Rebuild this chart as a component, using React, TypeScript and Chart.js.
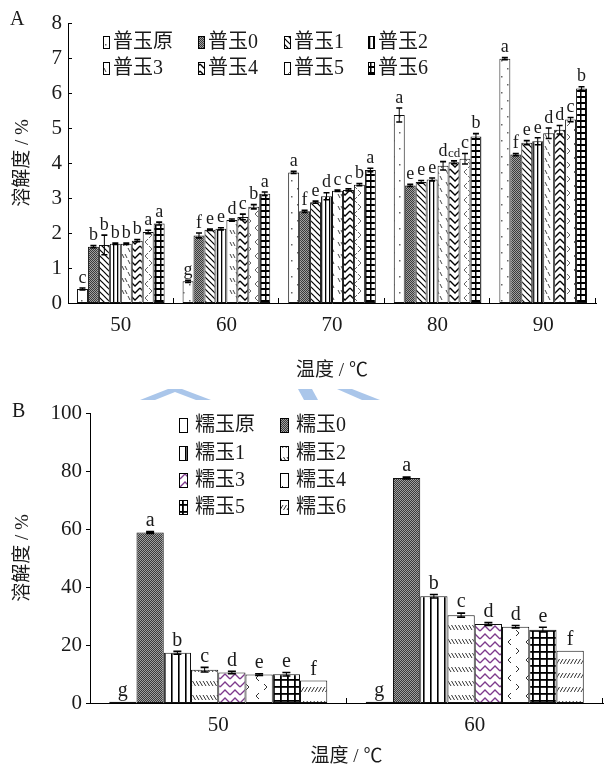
import React, { useEffect, useRef } from 'react';
import { Chart, registerables } from 'chart.js';
Chart.register(...registerables);

// ---------------- Panel A data ----------------
const temperaturesA = ['50', '60', '70', '80', '90'];
const namesA = ['普玉原', '普玉0', '普玉1', '普玉2', '普玉3', '普玉4', '普玉5', '普玉6'];
const puYuan = [0.40, 0.62, 3.73, 5.37, 6.98];
const pu0 = [1.61, 1.93, 2.62, 3.36, 4.24];
const pu1 = [1.66, 2.09, 2.88, 3.46, 4.58];
const pu2 = [1.69, 2.12, 3.05, 3.53, 4.62];
const pu3 = [1.69, 2.37, 3.21, 3.92, 4.85];
const pu4 = [1.78, 2.46, 3.23, 4.02, 4.95];
const pu5 = [2.03, 2.75, 3.38, 4.12, 5.24];
const pu6 = [2.27, 3.12, 3.80, 4.76, 6.13];
const errPuYuan = [0.03, 0.03, 0.03, 0.20, 0.03];
const errPu0 = [0.03, 0.07, 0.03, 0.03, 0.03];
const errPu1 = [0.28, 0.02, 0.03, 0.04, 0.06];
const errPu2 = [0.02, 0.03, 0.10, 0.04, 0.10];
const errPu3 = [0.02, 0.03, 0.02, 0.12, 0.15];
const errPu4 = [0.03, 0.08, 0.03, 0.04, 0.12];
const errPu5 = [0.05, 0.06, 0.03, 0.15, 0.06];
const errPu6 = [0.04, 0.05, 0.05, 0.08, 0.05];
const letPuYuan = ['c', 'g', 'a', 'a', 'a'];
const letPu0 = ['b', 'f', 'f', 'e', 'f'];
const letPu1 = ['b', 'e', 'e', 'e', 'e'];
const letPu2 = ['b', 'e', 'd', 'e', 'e'];
const letPu3 = ['b', 'd', 'c', 'd', 'd'];
const letPu4 = ['b', 'c', 'c', 'cd', 'd'];
const letPu5 = ['a', 'b', 'b', 'c', 'c'];
const letPu6 = ['a', 'a', 'a', 'b', 'b'];

// ---------------- Panel B data ----------------
const temperaturesB = ['50', '60'];
const namesB = ['糯玉原', '糯玉0', '糯玉1', '糯玉2', '糯玉3', '糯玉4', '糯玉5', '糯玉6'];
const nuoYuan = [0.4, 0.4];
const nuo0 = [58.8, 77.6];
const nuo1 = [17.3, 36.8];
const nuo2 = [11.5, 30.3];
const nuo3 = [10.5, 27.2];
const nuo4 = [9.8, 26.3];
const nuo5 = [9.9, 25.3];
const nuo6 = [7.8, 18.0];
const errNuoYuan = [0, 0];
const errNuo0 = [0.3, 0.3];
const errNuo1 = [0.5, 0.6];
const errNuo2 = [0.8, 0.7];
const errNuo3 = [0.4, 0.5];
const errNuo4 = [0.3, 0.4];
const errNuo5 = [0.6, 0.8];
const errNuo6 = [0, 0];
const letNuoYuan = ['g', 'g'];
const letNuo0 = ['a', 'a'];
const letNuo1 = ['b', 'b'];
const letNuo2 = ['c', 'c'];
const letNuo3 = ['d', 'd'];
const letNuo4 = ['e', 'd'];
const letNuo5 = ['e', 'e'];
const letNuo6 = ['f', 'f'];

const SERIF = "'Liberation Serif', 'Times New Roman', serif";
const MIXED = "'Liberation Serif', 'Noto Sans CJK SC', sans-serif";
const INK = '#1a1a1a';

type Pat = CanvasPattern | string;

function tile(target: CanvasRenderingContext2D, w: number, h: number, draw: (g: CanvasRenderingContext2D) => void): Pat {
  const c = document.createElement('canvas');
  c.width = w;
  c.height = h;
  const g = c.getContext('2d')!;
  g.fillStyle = '#fff';
  g.fillRect(0, 0, w, h);
  draw(g);
  return target.createPattern(c, 'repeat') || '#fff';
}

function poly(g: CanvasRenderingContext2D, pts: number[][], color = '#000', width = 1) {
  g.strokeStyle = color;
  g.lineWidth = width;
  g.beginPath();
  g.moveTo(pts[0][0], pts[0][1]);
  for (let i = 1; i < pts.length; i++) g.lineTo(pts[i][0], pts[i][1]);
  g.stroke();
}

function patternsA(ctx: CanvasRenderingContext2D): Pat[] {
  return [
    tile(ctx, 12, 16, g => { g.fillStyle = '#666'; g.fillRect(3, 4, 1.5, 1.5); g.fillRect(9, 12, 1.5, 1.5); }),
    tile(ctx, 2, 2, g => { g.fillStyle = '#a0a0a0'; g.fillRect(0, 0, 2, 2); g.fillStyle = '#3a3a3a'; g.fillRect(0, 0, 1, 1); g.fillRect(1, 1, 1, 1); }),
    tile(ctx, 6, 6, g => { poly(g, [[-1, -1], [7, 7]], '#000', 1.2); poly(g, [[-1, 5], [1, 7]], '#000', 1.2); poly(g, [[5, -1], [7, 1]], '#000', 1.2); }),
    tile(ctx, 4, 2, g => { g.fillStyle = '#000'; g.fillRect(1, 0, 1.3, 2); }),
    tile(ctx, 12, 12, g => { poly(g, [[2, 2], [4, 6]], '#444', 1); poly(g, [[5, 2], [7, 6]], '#444', 1); poly(g, [[8, 8], [10, 12]], '#444', 1); }),
    tile(ctx, 10, 7, g => { poly(g, [[0, 1], [5, 6], [10, 1]], '#000', 1.3); }),
    tile(ctx, 11, 14, g => { poly(g, [[5, 1], [2, 4], [5, 7]], '#666', 1); poly(g, [[6, 8], [9, 11], [6, 14]], '#666', 1); }),
    tile(ctx, 5, 6, g => { g.fillStyle = '#000'; g.fillRect(0, 0, 5, 2); g.fillRect(0, 0, 1.5, 6); }),
  ];
}

function patternsB(ctx: CanvasRenderingContext2D): Pat[] {
  return [
    '#ffffff',
    tile(ctx, 2, 2, g => { g.fillStyle = '#a0a0a0'; g.fillRect(0, 0, 2, 2); g.fillStyle = '#3a3a3a'; g.fillRect(0, 0, 1, 1); g.fillRect(1, 1, 1, 1); }),
    tile(ctx, 7, 2, g => { g.fillStyle = '#000'; g.fillRect(3, 0, 1.6, 2); }),
    tile(ctx, 14, 14, g => { for (const x of [0, 3.5, 7, 10.5]) poly(g, [[x, 2], [x + 3, 7]], '#333', 1); }),
    tile(ctx, 10, 8, g => { poly(g, [[0, 6], [5, 1], [10, 6]], '#7d3a8c', 1.4); }),
    tile(ctx, 18, 18, g => { poly(g, [[7, 2], [4, 5], [7, 8]], '#333', 1); poly(g, [[12, 11], [15, 14], [12, 17]], '#333', 1); }),
    tile(ctx, 7, 7, g => { g.fillStyle = '#000'; g.fillRect(0, 0, 7, 1.8); g.fillRect(0, 0, 1.8, 7); }),
    tile(ctx, 14, 14, g => { for (const x of [0, 3.5, 7, 10.5]) poly(g, [[x + 3, 8], [x, 13]], '#333', 1); }),
  ];
}

function annotatePlugin(errors: number[][], letters: string[][], cap: number, font: number) {
  return {
    id: 'annot',
    afterDatasetsDraw(chart: any) {
      const ctx = chart.ctx;
      const ys = chart.scales.y;
      ctx.save();
      chart.data.datasets.forEach((ds: any, di: number) => {
        const meta = chart.getDatasetMeta(di);
        meta.data.forEach((el: any, j: number) => {
          const v = ds.data[j];
          const e = errors[di][j];
          const x = el.x;
          const yT = ys.getPixelForValue(v + e);
          const yB = ys.getPixelForValue(v - e);
          ctx.strokeStyle = '#000';
          if (e > 0) {
            ctx.lineWidth = 1;
            ctx.beginPath();
            ctx.moveTo(x, yT); ctx.lineTo(x, yB);
            ctx.stroke();
            ctx.lineWidth = 1.6;
            ctx.beginPath();
            ctx.moveTo(x - cap, yT); ctx.lineTo(x + cap, yT);
            ctx.moveTo(x - cap, yB); ctx.lineTo(x + cap, yB);
            ctx.stroke();
          }
          const txt = letters[di][j];
          ctx.fillStyle = INK;
          ctx.font = `${txt.length > 1 ? font - 5 : font}px ${SERIF}`;
          ctx.textAlign = 'center';
          ctx.textBaseline = 'bottom';
          ctx.fillText(txt, x, yT - 1);
        });
      });
      ctx.restore();
    },
  };
}

function axisTicksPlugin(yDir: number) {
  return {
    id: 'axisTicks',
    afterDraw(chart: any) {
      const { ctx, chartArea } = chart;
      const xs = chart.scales.x;
      const ys = chart.scales.y;
      ctx.save();
      ctx.strokeStyle = '#000';
      ctx.lineWidth = 1;
      ctx.beginPath();
      const n = xs.getLabels().length;
      const half = (xs.getPixelForValue(1) - xs.getPixelForValue(0)) / 2;
      for (let i = 1; i <= n; i++) {
        const x = Math.round(xs.getPixelForValue(i - 1) + half) - 0.5;
        ctx.moveTo(x, chartArea.bottom);
        ctx.lineTo(x, chartArea.bottom - 5);
      }
      ys.ticks.forEach((t: any) => {
        const y = Math.round(ys.getPixelForValue(t.value)) + 0.5;
        ctx.moveTo(chartArea.left, y);
        ctx.lineTo(chartArea.left + yDir * 4, y);
      });
      ctx.stroke();
      ctx.restore();
    },
  };
}

function gridLegendPlugin(cols: number[], rows: number[], boxW: number, boxH: number, gap: number, font: number, ncols: number) {
  return {
    id: 'gridLegend',
    afterDraw(chart: any) {
      const ctx = chart.ctx;
      ctx.save();
      chart.data.datasets.forEach((ds: any, i: number) => {
        const cx = cols[i % ncols];
        const cy = rows[Math.floor(i / ncols)];
        ctx.fillStyle = ds.backgroundColor;
        ctx.fillRect(cx, cy - boxH / 2, boxW, boxH);
        ctx.strokeStyle = '#000';
        ctx.lineWidth = 1;
        ctx.strokeRect(cx + 0.5, cy - boxH / 2 + 0.5, boxW, boxH);
        ctx.fillStyle = INK;
        ctx.font = `${font}px ${MIXED}`;
        ctx.textAlign = 'left';
        ctx.textBaseline = 'middle';
        ctx.fillText(ds.label, cx + boxW + gap, cy + 1);
      });
      ctx.restore();
    },
  };
}

function panelLabelPlugin(text: string, x: number, y: number) {
  return {
    id: 'panelLabel',
    afterDraw(chart: any) {
      const ctx = chart.ctx;
      ctx.save();
      ctx.fillStyle = INK;
      ctx.font = `20px ${SERIF}`;
      ctx.textAlign = 'left';
      ctx.textBaseline = 'middle';
      ctx.fillText(text, x, y);
      ctx.restore();
    },
  };
}

const watermarkPlugin = {
  id: 'watermark',
  beforeDraw(chart: any) {
    const ctx = chart.ctx;
    ctx.save();
    ctx.fillStyle = '#aac6ea';
    const shapes = [
      [[140, 15], [168, 4], [182, 4], [211, 15], [196, 15], [175, 7], [155, 15]],
      [[298, 4], [312, 4], [318, 15], [304, 15]],
      [[337, 4], [352, 4], [380, 15], [362, 15]],
    ];
    shapes.forEach(s => {
      ctx.beginPath();
      ctx.moveTo(s[0][0], s[0][1]);
      s.slice(1).forEach(p => ctx.lineTo(p[0], p[1]));
      ctx.closePath();
      ctx.fill();
    });
    ctx.restore();
  },
};

function axisOptions(yMax: number, step: number, yWidth: number, xHeight: number, yTickPad: number, titlePadX: number, titlePadY: number) {
  return {
    x: {
      grid: { display: false, drawTicks: false },
      border: { display: true, color: '#000', width: 1 },
      ticks: { font: { family: SERIF, size: 21 }, color: INK, padding: 10 },
      title: { display: true, text: '温度 / ℃', font: { family: MIXED, size: 19 }, color: INK, padding: { top: 0, bottom: titlePadX } },
      afterFit: (s: any) => { s.height = xHeight; },
    },
    y: {
      min: 0,
      max: yMax,
      grid: { display: false, drawTicks: false },
      border: { display: true, color: '#000', width: 1 },
      ticks: { stepSize: step, font: { family: SERIF, size: 21 }, color: INK, padding: yTickPad },
      title: { display: true, text: '溶解度 / %', font: { family: MIXED, size: 19 }, color: INK, padding: { top: titlePadY, bottom: 0 } },
      afterFit: (s: any) => { s.width = yWidth; },
    },
  };
}

export default function App() {
  const refA = useRef<HTMLCanvasElement>(null);
  const refB = useRef<HTMLCanvasElement>(null);

  useEffect(() => {
    const ctxA = refA.current!.getContext('2d')!;
    const ctxB = refB.current!.getContext('2d')!;
    const patA = patternsA(ctxA);
    const patB = patternsB(ctxB);

    const valsA = [puYuan, pu0, pu1, pu2, pu3, pu4, pu5, pu6];
    const errsA = [errPuYuan, errPu0, errPu1, errPu2, errPu3, errPu4, errPu5, errPu6];
    const letsA = [letPuYuan, letPu0, letPu1, letPu2, letPu3, letPu4, letPu5, letPu6];
    const valsB = [nuoYuan, nuo0, nuo1, nuo2, nuo3, nuo4, nuo5, nuo6];
    const errsB = [errNuoYuan, errNuo0, errNuo1, errNuo2, errNuo3, errNuo4, errNuo5, errNuo6];
    const letsB = [letNuoYuan, letNuo0, letNuo1, letNuo2, letNuo3, letNuo4, letNuo5, letNuo6];

    const chartA = new Chart(ctxA, {
      type: 'bar',
      data: {
        labels: temperaturesA,
        datasets: namesA.map((name, i) => ({
          label: name,
          data: valsA[i],
          backgroundColor: patA[i] as any,
          borderColor: '#111',
          borderWidth: 1,
          borderSkipped: false,
          categoryPercentage: 0.83,
          barPercentage: 1.0,
        })),
      },
      options: {
        responsive: false,
        animation: false,
        layout: { padding: { left: 0, right: 8, top: 23, bottom: 0 } },
        plugins: { legend: { display: false }, tooltip: { enabled: false } },
        scales: axisOptions(8, 1, 68, 82, 6, 3, 12) as any,
      },
      plugins: [
        annotatePlugin(errsA, letsA, 3, 18),
        axisTicksPlugin(1),
        gridLegendPlugin([103, 198, 284, 368], [42, 68], 6, 12, 4, 20, 4),
        panelLabelPlugin('A', 10, 20),
      ],
    });

    const chartB = new Chart(ctxB, {
      type: 'bar',
      data: {
        labels: temperaturesB,
        datasets: namesB.map((name, i) => ({
          label: name,
          data: valsB[i],
          backgroundColor: patB[i] as any,
          borderColor: '#111',
          borderWidth: i === 0 ? 1.5 : 1,
          borderSkipped: false,
          categoryPercentage: 0.85,
          barPercentage: 1.0,
        })),
      },
      options: {
        responsive: false,
        animation: false,
        layout: { padding: { left: 0, right: 1, top: 28, bottom: 0 } },
        plugins: { legend: { display: false }, tooltip: { enabled: false } },
        scales: axisOptions(100, 20, 90, 66, 8, 1, 12) as any,
      },
      plugins: [
        watermarkPlugin,
        annotatePlugin(errsB, letsB, 4, 20),
        axisTicksPlugin(-1),
        gridLegendPlugin([179, 280], [40, 68, 95, 122], 8, 14, 8, 20, 2),
        panelLabelPlugin('B', 12, 27),
      ],
    });

    return () => {
      chartA.destroy();
      chartB.destroy();
    };
  }, []);

  return (
    <div style={{ position: 'absolute', left: 0, top: 0, width: 604, height: 769, background: '#fff' }}>
      <canvas ref={refA} width={604} height={385} style={{ position: 'absolute', left: 0, top: 0 }} />
      <canvas ref={refB} width={604} height={384} style={{ position: 'absolute', left: 0, top: 385 }} />
    </div>
  );
}
